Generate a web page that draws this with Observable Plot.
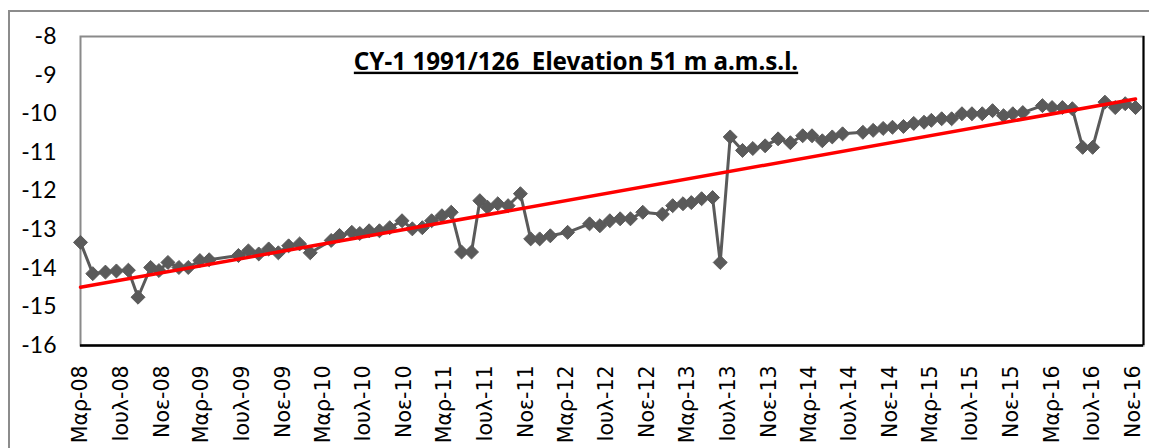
<!DOCTYPE html>
<html><head><meta charset="utf-8">
<script src="https://cdn.jsdelivr.net/npm/d3@7"></script>
<script src="https://cdn.jsdelivr.net/npm/@observablehq/plot@0.6"></script>
<style>
body{margin:0;background:#fff;overflow:hidden;}
#frame{position:absolute;left:8px;top:10px;width:1160px;height:460px;border:2px solid #8c8c8c;box-sizing:border-box;}
#chart{position:absolute;left:0;top:0;}
</style></head><body><div id="frame"></div><div id="chart"></div>
<script>
const title = "CY-1 1991/126  Elevation 51 m a.m.s.l.";
const dates = [
"2008-03-01","2008-04-07","2008-05-15","2008-06-17","2008-07-23","2008-08-21","2008-09-28","2008-10-23","2008-11-19","2008-12-22",
"2009-01-19","2009-02-23","2009-03-23","2009-06-19","2009-07-19","2009-08-19","2009-09-18","2009-10-17","2009-11-17","2009-12-20",
"2010-01-21","2010-03-25","2010-04-19","2010-05-26","2010-06-19","2010-07-17","2010-08-17","2010-09-17","2010-10-24","2010-11-24",
"2010-12-24","2011-01-21","2011-02-21","2011-03-21","2011-04-21","2011-05-21","2011-06-15","2011-07-08","2011-08-08","2011-09-08",
"2011-10-15","2011-11-15","2011-12-12","2012-01-13","2012-03-05","2012-05-10","2012-06-10","2012-07-10","2012-08-10","2012-09-10",
"2012-10-17","2012-12-15","2013-01-15","2013-02-15","2013-03-12","2013-04-12","2013-05-15","2013-06-07","2013-07-07","2013-08-13",
"2013-09-13","2013-10-20","2013-11-28","2014-01-04","2014-02-10","2014-03-10","2014-04-10","2014-05-10","2014-06-10","2014-08-10",
"2014-09-10","2014-10-10","2014-11-07","2014-12-10","2015-01-10","2015-02-10","2015-03-04","2015-04-04","2015-05-04","2015-06-04",
"2015-07-04","2015-08-04","2015-09-04","2015-10-07","2015-11-04","2015-12-04","2016-02-01","2016-03-01","2016-04-01","2016-05-01",
"2016-06-01","2016-07-01","2016-08-07","2016-09-07","2016-10-07","2016-11-07"
];
const levels = [
-13.33,-14.14,-14.10,-14.07,-14.05,-14.75,-13.98,-14.06,-13.85,-13.98,
-13.98,-13.80,-13.78,-13.67,-13.55,-13.63,-13.50,-13.60,-13.42,-13.37,
-13.60,-13.28,-13.15,-13.07,-13.10,-13.03,-13.03,-12.95,-12.77,-12.98,
-12.95,-12.77,-12.64,-12.55,-13.58,-13.58,-12.25,-12.42,-12.33,-12.38,
-12.07,-13.24,-13.24,-13.16,-13.07,-12.85,-12.90,-12.77,-12.72,-12.72,
-12.55,-12.60,-12.38,-12.33,-12.30,-12.20,-12.17,-13.85,-10.60,-10.95,
-10.90,-10.83,-10.65,-10.75,-10.57,-10.57,-10.70,-10.60,-10.52,-10.48,
-10.43,-10.38,-10.35,-10.33,-10.25,-10.22,-10.17,-10.13,-10.13,-10.00,
-10.00,-10.00,-9.92,-10.05,-10.00,-9.97,-9.79,-9.84,-9.84,-9.87,
-10.87,-10.87,-9.70,-9.84,-9.74,-9.84
];
const tickDates = ["2008-03-01","2008-07-01","2008-11-01","2009-03-01","2009-07-01","2009-11-01","2010-03-01","2010-07-01","2010-11-01",
"2011-03-01","2011-07-01","2011-11-01","2012-03-01","2012-07-01","2012-11-01","2013-03-01","2013-07-01","2013-11-01",
"2014-03-01","2014-07-01","2014-11-01","2015-03-01","2015-07-01","2015-11-01","2016-03-01","2016-07-01","2016-11-01"];
const tickLabels = ["Μαρ-08","Ιουλ-08","Νοε-08","Μαρ-09","Ιουλ-09","Νοε-09","Μαρ-10","Ιουλ-10","Νοε-10",
"Μαρ-11","Ιουλ-11","Νοε-11","Μαρ-12","Ιουλ-12","Νοε-12","Μαρ-13","Ιουλ-13","Νοε-13",
"Μαρ-14","Ιουλ-14","Νοε-14","Μαρ-15","Ιουλ-15","Νοε-15","Μαρ-16","Ιουλ-16","Νοε-16"];
const xDomain = ["2008-03-01","2016-12-01"];
const yTicks = [-16,-15,-14,-13,-12,-11,-10,-9,-8];

const data = dates.map((d,i)=>({date:new Date(d), level:levels[i]}));
const tickVals = tickDates.map(d=>new Date(d));
const labelOf = new Map(tickVals.map((d,i)=>[+d, tickLabels[i]]));
const xMax = new Date(xDomain[1]);

const chart = Plot.plot({
  width:1149, height:448,
  marginLeft:80, marginTop:36, marginRight:6, marginBottom:103,
  x:{type:"utc", domain:xDomain.map(d=>new Date(d))},
  y:{domain:[-16,-8]},
  marks:[
    Plot.frame({stroke:"#8a8a8a", strokeWidth:2}),
    Plot.ruleY([-16],{stroke:"#000", strokeWidth:2.5}),
    Plot.ruleX([xMax],{stroke:"#000", strokeWidth:2}),
    Plot.axisY({ticks:yTicks, tickFormat:d=>String(d), tickSize:0, tickPadding:24, label:null, fontSize:23, fontFamily:"Lato", fill:"#000"}),
    Plot.axisX({ticks:tickVals, tickFormat:d=>labelOf.get(+d), tickRotate:-90, tickSize:0, tickPadding:20, label:null, fontSize:20.5, fontFamily:"DejaVu Sans", fill:"#000"}),
    Plot.line(data,{x:"date", y:"level", stroke:"#5a5a5a", strokeWidth:3}),
    Plot.dot(data,{x:"date", y:"level", symbol:"diamond2", r:6.3, fill:"#5a5a5a", stroke:"#5a5a5a", strokeWidth:1}),
    Plot.linearRegressionY(data,{x:"date", y:"level", stroke:"#ff0000", strokeWidth:3.5, ci:0}),
    Plot.text([title],{text:d=>d, frameAnchor:"top", dy:16, dx:-36, fontSize:24.2, fontWeight:700, fontFamily:"Noto Sans", fill:"#000"})
  ]
});
document.getElementById("chart").appendChild(chart);
d3.select(chart).selectAll("text").filter(function(){return this.textContent===title;}).style("text-decoration","underline");
</script>
</body></html>
